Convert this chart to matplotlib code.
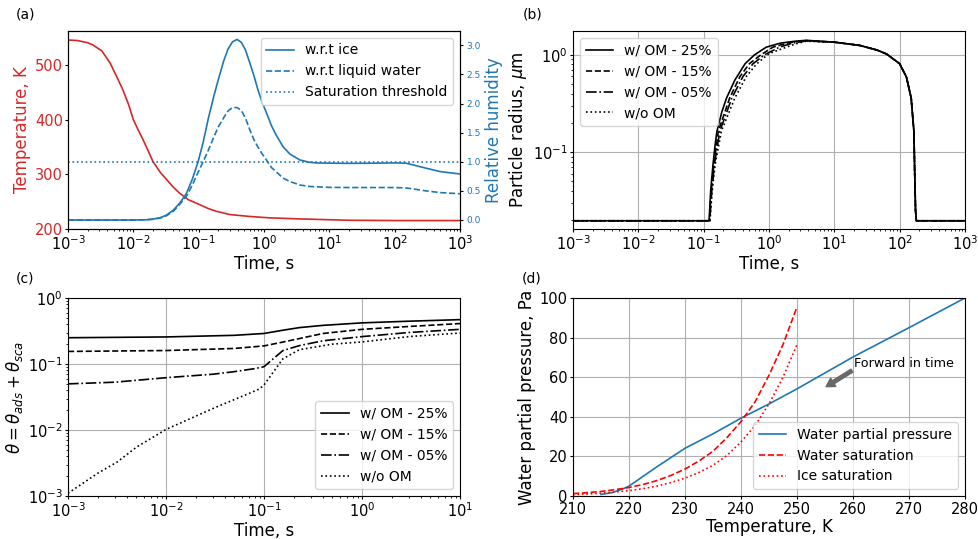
import numpy as np
import matplotlib
matplotlib.use('Agg')
import matplotlib.pyplot as plt

# ---- (a) temperature and relative humidity vs time
t_temp = [1e-3, 1.4e-3, 2e-3, 2.4e-3, 3.3e-3, 4.4e-3, 5.5e-3, 6.9e-3, 8.5e-3, 1e-2, 1.2e-2,
          1.41e-2, 1.7e-2, 2e-2, 2.6e-2, 3.24e-2, 4.1e-2, 5.13e-2, 7e-2, 0.1, 0.14, 0.186,
          0.3, 0.6, 1.2, 3.5, 20, 100, 1000]
temp = [546, 545, 541, 537, 526, 504, 480, 455, 427, 400, 380,
        363, 342, 323, 303, 290, 276, 265, 253, 245, 237, 232,
        226, 222.5, 220, 218, 215.5, 215, 215]

t_rh = [1e-3, 1e-2, 1.6e-2, 2e-2, 2.6e-2, 3.24e-2, 4.1e-2, 5.13e-2, 6.46e-2, 8e-2, 0.098,
        0.117, 0.141, 0.17, 0.2, 0.24, 0.28, 0.33, 0.387, 0.45, 0.52, 0.605, 0.7, 0.8,
        0.93, 1.09, 1.3, 1.5, 1.95, 2.5, 3.55, 5, 6.3, 10, 20, 50, 100, 150, 200, 300,
        500, 1000]
rh_ice = [0, 0, 0.004, 0.015, 0.04, 0.086, 0.17, 0.29, 0.45, 0.7, 1.0,
          1.33, 1.75, 2.12, 2.41, 2.72, 2.93, 3.06, 3.10, 3.05, 2.92, 2.70, 2.48, 2.25,
          2.03, 1.84, 1.62, 1.48, 1.26, 1.13, 1.03, 0.99, 0.98, 0.975, 0.972, 0.975, 0.98, 0.975, 0.94, 0.89,
          0.83, 0.79]
rh_liq = [0, 0, 0.003, 0.012, 0.035, 0.075, 0.15, 0.27, 0.40, 0.6, 0.82,
          1.0, 1.2, 1.42, 1.6, 1.75, 1.87, 1.93, 1.93, 1.88, 1.75, 1.55, 1.38, 1.26,
          1.14, 1.03, 0.90, 0.84, 0.72, 0.66, 0.60, 0.575, 0.57, 0.56, 0.557, 0.557, 0.557, 0.55, 0.53, 0.50,
          0.47, 0.45]

# ---- (b) particle radius vs time
t_fall = [10, 24.5, 45, 63, 100, 127, 150, 165, 171, 175, 180, 1000]
r_fall = [1.35, 1.25, 1.12, 1.02, 0.81, 0.59, 0.36, 0.165, 0.05, 0.025, 0.0197, 0.0197]

t_om25 = [1e-3, 0.121, 0.128, 0.139, 0.150, 0.160, 0.19, 0.224, 0.3, 0.43, 0.6, 0.91, 1.5, 2.5, 3.7]
r_om25 = [0.0197, 0.0197, 0.04, 0.0746, 0.12, 0.165, 0.26, 0.36, 0.55, 0.81, 1.0, 1.2, 1.32, 1.38, 1.41]
t_om15 = [1e-3, 0.122, 0.131, 0.143, 0.168, 0.25, 0.36, 0.5, 0.75, 1.15, 2.0, 3.7]
r_om15 = [0.0197, 0.0197, 0.04, 0.075, 0.165, 0.36, 0.6, 0.81, 1.0, 1.2, 1.33, 1.40]
t_om05 = [1e-3, 0.124, 0.133, 0.146, 0.177, 0.27, 0.40, 0.57, 0.85, 1.45, 2.3, 3.7]
r_om05 = [0.0197, 0.0197, 0.04, 0.075, 0.165, 0.36, 0.6, 0.81, 1.0, 1.2, 1.32, 1.39]
t_noom = [1e-3, 0.125, 0.135, 0.15, 0.187, 0.30, 0.45, 0.65, 1.0, 1.85, 2.6, 3.7]
r_noom = [0.0197, 0.0197, 0.04, 0.075, 0.165, 0.36, 0.6, 0.81, 1.03, 1.2, 1.3, 1.38]

# ---- (c) surface coverage vs time
t_cov = [1e-3, 1e-2, 0.05, 0.1, 0.156, 0.23, 0.4, 1, 3, 10]
cov_om25 = [0.25, 0.257, 0.272, 0.29, 0.325, 0.356, 0.385, 0.42, 0.445, 0.47]
cov_om15 = [0.155, 0.16, 0.172, 0.188, 0.215, 0.243, 0.29, 0.335, 0.37, 0.41]
t_cov05 = [1e-3, 3e-3, 1e-2, 0.03, 0.048, 0.08, 0.1, 0.156, 0.23, 0.4, 1, 3, 10]
cov_om05 = [0.05, 0.053, 0.062, 0.07, 0.076, 0.085, 0.091, 0.16, 0.19, 0.225, 0.26, 0.30, 0.335]
t_cov0 = [1e-3, 2e-3, 3.2e-3, 5e-3, 1e-2, 0.032, 0.071, 0.09, 0.1, 0.12, 0.156, 0.23, 0.5, 1, 3, 10]
cov_noom = [0.0011, 0.0022, 0.0033, 0.0055, 0.0102, 0.022, 0.036, 0.042, 0.048, 0.07, 0.12, 0.165,
            0.2, 0.216, 0.26, 0.295]

# ---- (d) partial pressure vs temperature
T_pp = [215, 217, 219, 220, 222, 225, 227, 230, 235, 240, 245, 250, 260, 270, 280]
p_h2o = [0.8, 1.7, 3.7, 5.0, 8.9, 14.8, 18.5, 24.1, 31.4, 39.3, 46.5, 54.1, 70.2, 85, 100]
T_sat = [210, 212.5, 215, 217.5, 220, 222.5, 225, 227.5, 230, 232.5, 235, 237.5, 240, 242.5, 245, 247.5, 250]
p_wat = [1.2, 1.7, 2.3, 3.2, 4.3, 5.8, 7.8, 10.4, 13.6, 17.7, 22.6, 29.5, 37.6, 47.5, 61, 76.5, 95.5]
p_ice = [0.7, 1.0, 1.4, 2.0, 2.7, 3.7, 5.0, 6.8, 9.0, 11.9, 15.5, 20.5, 27.3, 35.5, 46.5, 60, 76.5]

plt.rcParams['xtick.major.size'] = 2.2
plt.rcParams['ytick.major.size'] = 2.2
plt.rcParams['xtick.minor.size'] = 1.3
plt.rcParams['ytick.minor.size'] = 1.3
plt.rcParams['xtick.major.pad'] = 1.8
plt.rcParams['ytick.major.pad'] = 1.5
plt.rcParams['xtick.minor.pad'] = 1.8
plt.rcParams['ytick.minor.pad'] = 1.5

tick_fs = 10.5
lab_fs = 12
leg_fs = 10
lw = 1.2

W, H = 979, 539
def box(l, t, r, b):
    return [l / W, 1 - b / H, (r - l) / W, (b - t) / H]

fig = plt.figure(figsize=(9.79, 5.39), dpi=100)

# (a)
ax = fig.add_axes(box(68, 31, 460, 229))
ax.plot(t_temp, temp, color='tab:red', lw=lw)
ax.set_xscale('log')
ax.set_xlim(1e-3, 1e3)
ax.set_ylim(199.5, 562.5)
ax.set_xlabel('Time, s', fontsize=lab_fs, labelpad=1)
ax.set_ylabel('Temperature, K', color='tab:red', fontsize=lab_fs, labelpad=3)
ax.tick_params(axis='y', labelcolor='tab:red', labelsize=tick_fs)
ax.tick_params(axis='x', labelsize=tick_fs)
ax2 = ax.twinx()
ax2.plot(t_rh, rh_ice, color='tab:blue', lw=lw, label='w.r.t ice')
ax2.plot(t_rh, rh_liq, color='tab:blue', lw=lw, ls='--', label='w.r.t liquid water')
ax2.axhline(1.0, color='tab:blue', lw=lw, ls=':', label='Saturation threshold')
ax2.set_ylim(-0.155, 3.245)
ax2.set_yticks(np.arange(0, 3.01, 0.5))
ax2.tick_params(axis='y', labelcolor='tab:blue', labelsize=6.5, pad=2.5)
ax2.set_ylabel('Relative humidity', color='tab:blue', fontsize=lab_fs, labelpad=3)
ax2.legend(loc='upper right', fontsize=leg_fs)

# (b)
ax = fig.add_axes(box(573, 31, 965, 229))
styles = ['-', '--', '-.', ':']
labels = ['w/ OM - 25%', 'w/ OM - 15%', 'w/ OM - 05%', 'w/o OM']
for tt, rr, st, lb in zip([t_om25, t_om15, t_om05, t_noom],
                          [r_om25, r_om15, r_om05, r_noom], styles, labels):
    ax.plot(list(tt) + t_fall, list(rr) + r_fall, color='black', ls=st, lw=lw, label=lb)
ax.set_xscale('log')
ax.set_yscale('log')
ax.set_xlim(1e-3, 1e3)
ax.set_ylim(10 ** -1.79, 10 ** 0.245)
ax.grid(True, which='major')
ax.set_xlabel('Time, s', fontsize=lab_fs, labelpad=1)
ax.set_ylabel(r'Particle radius, $\mu$m', fontsize=lab_fs, labelpad=3)
ax.tick_params(labelsize=tick_fs)
ax.legend(loc='upper left', fontsize=leg_fs)

# (c)
ax = fig.add_axes(box(68, 298, 460, 496))
ax.plot(t_cov, cov_om25, color='black', ls='-', lw=lw, label=labels[0])
ax.plot(t_cov, cov_om15, color='black', ls='--', lw=lw, label=labels[1])
ax.plot(t_cov05, cov_om05, color='black', ls='-.', lw=lw, label=labels[2])
ax.plot(t_cov0, cov_noom, color='black', ls=':', lw=lw, label=labels[3])
ax.set_xscale('log')
ax.set_yscale('log')
ax.set_xlim(1e-3, 1e1)
ax.set_ylim(1e-3, 1e0)
ax.grid(True, which='major')
ax.set_xlabel('Time, s', fontsize=lab_fs, labelpad=1)
ax.set_ylabel(r'$\theta = \theta_{ads} + \theta_{sca}$', fontsize=lab_fs, labelpad=2)
ax.tick_params(labelsize=tick_fs)
ax.legend(loc='lower right', fontsize=leg_fs)

# (d)
ax = fig.add_axes(box(573, 298, 965, 496))
ax.plot(T_pp, p_h2o, color='tab:blue', lw=lw, label='Water partial pressure')
ax.plot(T_sat, p_wat, color='red', ls='--', lw=lw, label='Water saturation')
ax.plot(T_sat, p_ice, color='red', ls=':', lw=lw, label='Ice saturation')
ax.set_xlim(210, 280)
ax.set_ylim(0, 100)
ax.grid(True)
ax.annotate('', xy=(255.2, 55.2), xytext=(259.8, 63.3),
            arrowprops=dict(facecolor='dimgray', edgecolor='dimgray',
                            width=2.5, headwidth=7, headlength=6, shrink=0))
ax.text(260.2, 65.3, 'Forward in time', fontsize=9.2)
ax.set_xlabel('Temperature, K', fontsize=lab_fs, labelpad=1)
ax.set_ylabel('Water partial pressure, Pa', fontsize=lab_fs, labelpad=3)
ax.tick_params(labelsize=tick_fs)
ax.legend(loc='lower right', fontsize=leg_fs)

fig.text(16 / W, 1 - 15 / H, '(a)', fontsize=10, va='center')
fig.text(523 / W, 1 - 15 / H, '(b)', fontsize=10, va='center')
fig.text(16 / W, 1 - 279 / H, '(c)', fontsize=10, va='center')
fig.text(522 / W, 1 - 278 / H, '(d)', fontsize=10, va='center')

fig.savefig('out.png', dpi=100)
